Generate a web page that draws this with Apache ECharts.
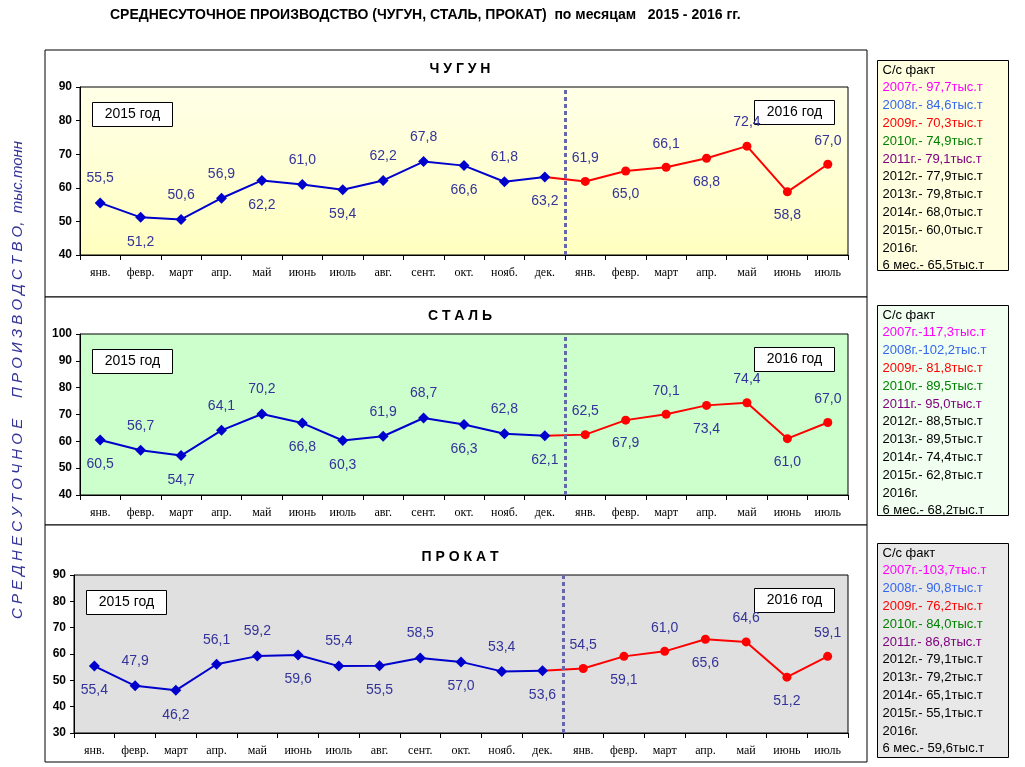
<!DOCTYPE html>
<html>
<head>
<meta charset="utf-8">
<script src="https://cdn.jsdelivr.net/npm/echarts@6/dist/echarts.min.js"></script>
<style>
  html, body { margin: 0; padding: 0; background: #fff; }
  #main { width: 1025px; height: 767px; }
</style>
</head>
<body>
<div id="main"></div>
<script>
// месяцы: 2015 (12) + 2016 (7)
const months = ['янв.', 'февр.', 'март', 'апр.', 'май', 'июнь', 'июль', 'авг.', 'сент.', 'окт.', 'нояб.', 'дек.',
                'янв.', 'февр.', 'март', 'апр.', 'май', 'июнь', 'июль'];

const pig2015 = [55.5, 51.2, 50.6, 56.9, 62.2, 61.0, 59.4, 62.2, 67.8, 66.6, 61.8, 63.2];
const pig2016 = [61.9, 65.0, 66.1, 68.8, 72.4, 58.8, 67.0];
const pigSide = 'tbttbtbttbtbtbtbtbt';

const steel2015 = [60.5, 56.7, 54.7, 64.1, 70.2, 66.8, 60.3, 61.9, 68.7, 66.3, 62.8, 62.1];
const steel2016 = [62.5, 67.9, 70.1, 73.4, 74.4, 61.0, 67.0];
const steelSide = 'btbttbbttbtbtbtbtbt';

const roll2015 = [55.4, 47.9, 46.2, 56.1, 59.2, 59.6, 55.4, 55.5, 58.5, 57.0, 53.4, 53.6];
const roll2016 = [54.5, 59.1, 61.0, 65.6, 64.6, 51.2, 59.1];
const rollSide = 'btbttbtbtbtbtbtbtbt';

const pigFacts = ['2007г.- 97,7тыс.т', '2008г.- 84,6тыс.т', '2009г.- 70,3тыс.т', '2010г.- 74,9тыс.т', '2011г.- 79,1тыс.т',
                  '2012г.- 77,9тыс.т', '2013г.- 79,8тыс.т', '2014г.- 68,0тыс.т', '2015г.- 60,0тыс.т', '2016г.', '6 мес.- 65,5тыс.т'];
const steelFacts = ['2007г.-117,3тыс.т', '2008г.-102,2тыс.т', '2009г.- 81,8тыс.т', '2010г.- 89,5тыс.т', '2011г.- 95,0тыс.т',
                    '2012г.- 88,5тыс.т', '2013г.- 89,5тыс.т', '2014г.- 74,4тыс.т', '2015г.- 62,8тыс.т', '2016г.', '6 мес.- 68,2тыс.т'];
const rollFacts = ['2007г.-103,7тыс.т', '2008г.- 90,8тыс.т', '2009г.- 76,2тыс.т', '2010г.- 84,0тыс.т', '2011г.- 86,8тыс.т',
                   '2012г.- 79,1тыс.т', '2013г.- 79,2тыс.т', '2014г.- 65,1тыс.т', '2015г.- 55,1тыс.т', '2016г.', '6 мес.- 59,6тыс.т'];
const factColors = ['#ff00ff', '#3366ee', '#ff0000', '#008000', '#800080', '#000', '#000', '#000', '#000', '#000', '#000'];

const panels = [
    { name: 'ЧУГУН', v15: pig2015, v16: pig2016, side: pigSide, facts: pigFacts, min: 40, max: 90,
      box: [45, 50, 822, 247], grid: { left: 80, top: 87, width: 768, height: 168 }, plotBg: '#ffffd0', sideBg: '#ffffe0', sideBox: [877, 60, 131, 210] },
    { name: 'СТАЛЬ', v15: steel2015, v16: steel2016, side: steelSide, facts: steelFacts, min: 40, max: 100,
      box: [45, 297, 822, 228], grid: { left: 80, top: 334, width: 768, height: 161 }, plotBg: '#ccffcc', sideBg: '#f0fff0', sideBox: [877, 305, 131, 210] },
    { name: 'ПРОКАТ', v15: roll2015, v16: roll2016, side: rollSide, facts: rollFacts, min: 30, max: 90,
      box: [45, 525, 822, 237], grid: { left: 74, top: 575, width: 774, height: 158 }, plotBg: '#e0e0e0', sideBg: '#e8e8e8', sideBox: [877, 543, 131, 214] }
];

const labelFont = { fontFamily: 'Liberation Sans Narrow, Liberation Sans, Arial', fontSize: 14, color: '#333399' };

function pointLabel(side) {
    return { show: true, position: side === 't' ? 'top' : 'bottom', distance: 12, formatter: p => p.value == null ? '' : p.value.toFixed(1).replace('.', ','), ...labelFont };
}

const grids = [], xAxes = [], yAxes = [], series = [], graphics = [];

panels.forEach((p, i) => {
    grids.push(p.grid);
    xAxes.push({
        type: 'category', gridIndex: i, data: months, boundaryGap: true,
        axisLine: { onZero: false, lineStyle: { color: '#000' } },
        axisTick: { show: true, length: 5, lineStyle: { color: '#000' } },
        axisLabel: { fontFamily: 'Liberation Serif, Times New Roman', fontSize: 12, color: '#000', margin: 12, interval: 0 }
    });
    // скрытая ось для разделительной линии между годами
    xAxes.push({ type: 'value', gridIndex: i, min: -0.5, max: 18.5, show: false });
    yAxes.push({
        type: 'value', gridIndex: i, min: p.min, max: p.max, interval: 10,
        axisLine: { show: true, onZero: false, lineStyle: { color: '#000' } },
        axisTick: { show: true, length: 4, lineStyle: { color: '#000' } },
        splitLine: { show: false },
        axisLabel: { fontFamily: 'Liberation Sans, Arial', fontWeight: 'bold', fontSize: 12, color: '#000' }
    });
    yAxes.push({ type: 'value', gridIndex: i, min: p.min, max: p.max, show: false });

    const d15 = p.v15.map((v, k) => ({ value: v, label: pointLabel(p.side[k]) }));
    const d16 = months.map((m, k) => {
        if (k < 11) return null;
        if (k === 11) return { value: p.v15[11], symbol: 'none', label: { show: false } };
        return { value: p.v16[k - 12], label: pointLabel(p.side[k]) };
    });
    series.push({
        type: 'line', xAxisIndex: 2 * i, yAxisIndex: 2 * i, data: d16, z: 3,
        symbol: 'circle', symbolSize: 9, itemStyle: { color: '#ff0000' }, lineStyle: { color: '#ff0000', width: 2 }
    });
    series.push({
        type: 'line', xAxisIndex: 2 * i, yAxisIndex: 2 * i, data: d15, z: 4,
        symbol: 'diamond', symbolSize: 11, itemStyle: { color: '#0000cc' }, lineStyle: { color: '#0000cc', width: 2 }
    });
    series.push({
        type: 'line', xAxisIndex: 2 * i + 1, yAxisIndex: 2 * i + 1, data: [], z: 5,
        markLine: { silent: true, symbol: 'none', label: { show: false },
            lineStyle: { color: '#6666aa', type: [4, 3], width: 3 }, data: [{ xAxis: 11.5 }] }
    });

    // рамки панели и фон области графика
    graphics.push({ type: 'rect', shape: { x: p.box[0], y: p.box[1], width: p.box[2], height: p.box[3] },
        style: { fill: '#fff', stroke: '#000', lineWidth: 1 }, z: -10 });
    graphics.push({ type: 'rect', shape: { x: p.grid.left, y: p.grid.top, width: p.grid.width, height: p.grid.height },
        style: { fill: i === 0 ? new echarts.graphic.LinearGradient(0, 1, 0, 0, [{ offset: 0, color: '#ffffc0' }, { offset: 1, color: '#ffffe8' }]) : p.plotBg, stroke: '#000' }, z: -9 });
    graphics.push({ type: 'text', x: 460, y: p.grid.top - 18, z: 10,
        style: { text: p.name.split('').join(' '), font: 'bold 14px Liberation Sans, Arial', fill: '#000', align: 'center', verticalAlign: 'middle' } });
    const yearY = p.grid.top + 15;
    graphics.push({ type: 'group', left: p.grid.left + 12, top: yearY, z: 10, children: [
        { type: 'rect', shape: { x: 0, y: 0, width: 80, height: 24 }, style: { fill: '#fff', stroke: '#000' } },
        { type: 'text', x: 40, y: 12, style: { text: '2015 год', font: '14px Liberation Sans Narrow, Liberation Sans', fill: '#000', align: 'center', verticalAlign: 'middle' } }
    ] });
    graphics.push({ type: 'group', left: p.grid.left + p.grid.width - 94, top: yearY - 2, z: 10, children: [
        { type: 'rect', shape: { x: 0, y: 0, width: 80, height: 24 }, style: { fill: '#fff', stroke: '#000' } },
        { type: 'text', x: 40, y: 12, style: { text: '2016 год', font: '14px Liberation Sans Narrow, Liberation Sans', fill: '#000', align: 'center', verticalAlign: 'middle' } }
    ] });

    // боковая справка
    const sb = p.sideBox;
    const kids = [{ type: 'rect', shape: { x: 0, y: 0, width: sb[2], height: sb[3] }, style: { fill: p.sideBg, stroke: '#000' } },
                  { type: 'text', x: 5, y: 3, style: { text: 'С/с факт', font: '13px Liberation Sans, Arial', fill: '#000' } }];
    p.facts.forEach((t, k) => {
        kids.push({ type: 'text', x: 5, y: 3 + 17.8 * (k + 1), style: { text: t, font: '13px Liberation Sans, Arial', fill: factColors[k] } });
    });
    graphics.push({ type: 'group', left: sb[0], top: sb[1], z: 10, children: kids });
});

graphics.push({ type: 'text', left: 110, top: 8, style: { text: 'СРЕДНЕСУТОЧНОЕ ПРОИЗВОДСТВО (ЧУГУН, СТАЛЬ, ПРОКАТ)  по месяцам   2015 - 2016 гг.',
    font: 'bold 14px Liberation Sans, Arial', fill: '#000' } });
graphics.push({ type: 'text', x: 18, y: 380, rotation: Math.PI / 2,
    style: { text: 'С Р Е Д Н Е С У Т О Ч Н О Е     П Р О И З В О Д С Т В О,  тыс.тонн', font: 'italic 15px Liberation Sans, Arial',
        fill: '#333399', align: 'center', verticalAlign: 'middle' } });

const chart = echarts.init(document.getElementById('main'));
chart.setOption({
    animation: false,
    grid: grids,
    xAxis: xAxes,
    yAxis: yAxes,
    series: series,
    graphic: graphics
});
</script>
</body>
</html>
